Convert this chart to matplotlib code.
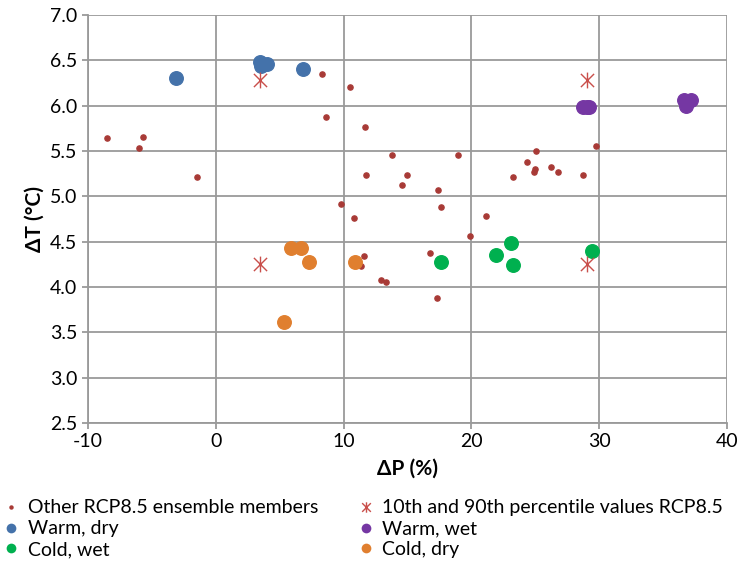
import matplotlib.pyplot as plt
from matplotlib.lines import Line2D
from matplotlib.path import Path

plt.rcParams["font.family"] = ["Lato", "DejaVu Sans"]
plt.rcParams["axes.unicode_minus"] = False

# Ensemble members (precipitation change %, temperature change degC)
other_dp = [8.27, 10.46, 8.63, 11.69, -8.5, -5.71, -6.03, -1.46, 11.74, 9.76,
            10.82, 13.75, 18.91, 14.92, 14.58, 17.39, 17.58, 21.15, 25.07, 24.33,
            24.96, 24.86, 26.24, 26.73, 23.24, 28.69, 29.73, 19.87, 16.75, 11.61,
            11.32, 12.91, 13.28, 17.29]
other_dt = [6.35, 6.21, 5.88, 5.77, 5.64, 5.66, 5.53, 5.21, 5.23, 4.91,
            4.76, 5.46, 5.46, 5.24, 5.13, 5.07, 4.88, 4.78, 5.50, 5.38,
            5.30, 5.27, 5.32, 5.27, 5.21, 5.24, 5.56, 4.56, 4.38, 4.34,
            4.23, 4.08, 4.06, 3.88]

pct_dp = [3.47, 29.03, 3.47, 29.03]
pct_dt = [6.28, 6.28, 4.25, 4.25]

warm_dry_dp = [-3.15, 3.44, 3.52, 4.04, 6.86]
warm_dry_dt = [6.30, 6.48, 6.44, 6.46, 6.41]

warm_wet_dp = [28.74, 29.0, 29.16, 36.62, 37.14, 36.78]
warm_wet_dt = [5.99, 5.99, 5.98, 6.06, 6.06, 6.00]

cold_wet_dp = [17.58, 23.11, 21.91, 23.24, 29.45]
cold_wet_dt = [4.28, 4.49, 4.35, 4.24, 4.40]

cold_dry_dp = [5.87, 6.68, 7.33, 5.30, 10.88]
cold_dry_dt = [4.43, 4.43, 4.28, 3.61, 4.28]

x_ticks = [-10, 0, 10, 20, 30, 40]
y_ticks = [2.5, 3.0, 3.5, 4.0, 4.5, 5.0, 5.5, 6.0, 6.5, 7.0]

c_other = "#A83A36"
c_pct = "#C94F4B"
c_wd = "#4472AA"
c_ww = "#7537A3"
c_cw = "#00B04F"
c_cd = "#E07F2F"

# X with a vertical bar, like a spreadsheet asterisk marker
star = Path([(-1, -1), (1, 1), (-1, 1), (1, -1), (0, -1.2), (0, 1.2)],
            [Path.MOVETO, Path.LINETO, Path.MOVETO, Path.LINETO, Path.MOVETO, Path.LINETO])

fig = plt.figure(figsize=(7.39, 5.67), dpi=100)
ax = fig.add_axes([0.119, 0.254, 0.865, 0.7195])

big = 95
ax.scatter(other_dp, other_dt, s=14, color=c_other, zorder=3)
ax.scatter(pct_dp, pct_dt, s=130, marker=star, color=c_pct, linewidths=1.0, zorder=4)
ax.scatter(warm_dry_dp, warm_dry_dt, s=big, color=c_wd, zorder=3)
ax.scatter(warm_wet_dp, warm_wet_dt, s=big, color=c_ww, zorder=3)
ax.scatter(cold_wet_dp, cold_wet_dt, s=big, color=c_cw, zorder=3)
ax.scatter(cold_dry_dp, cold_dry_dt, s=big, color=c_cd, zorder=3)

ax.set_xlim(-10, 40)
ax.set_ylim(2.5, 7.0)
ax.set_xticks(x_ticks)
ax.set_yticks(y_ticks)
ax.set_yticklabels([f"{v:.1f}" for v in y_ticks])
ax.grid(True, color="#9A9A9A", linewidth=1.3)
ax.set_axisbelow(True)
for side in ["top", "right"]:
    ax.spines[side].set_visible(False)
for side in ["left", "bottom"]:
    ax.spines[side].set_color("#9A9A9A")
    ax.spines[side].set_linewidth(1.3)
ax.tick_params(colors="#9A9A9A", labelcolor="black", labelsize=14,
               length=4, width=1.3)

ax.set_xlabel("ΔP (%)", fontsize=15, fontweight="bold", labelpad=6)
ax.set_ylabel("ΔT (°C)", fontsize=15, fontweight="bold", labelpad=4)

def dot(color, size, marker="o", mew=0.0):
    return Line2D([], [], linestyle="none", marker=marker, markersize=size,
                  color=color, markeredgewidth=mew)

handles = [dot(c_other, 3.2), dot(c_wd, 7), dot(c_cw, 7),
           dot(c_pct, 7.5, star, 1.0), dot(c_ww, 7), dot(c_cd, 7)]
labels = ["Other RCP8.5 ensemble members", "Warm, dry", "Cold, wet",
          "10th and 90th percentile values RCP8.5", "Warm, wet", "Cold, dry"]
fig.legend(handles, labels, ncol=2, loc="lower left", bbox_to_anchor=(-0.01, 0.0),
           frameon=False, fontsize=14, handletextpad=0.35, columnspacing=1.95,
           labelspacing=0.2, borderaxespad=0.05, handlelength=1.0)

fig.savefig("out.png", dpi=100)
